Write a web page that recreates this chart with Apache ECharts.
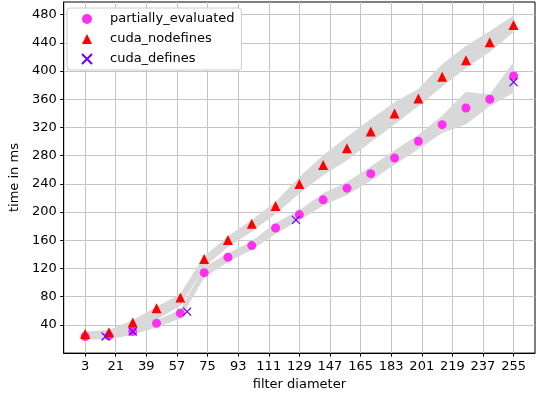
<!DOCTYPE html>
<html>
<head>
<meta charset="utf-8">
<script src="https://cdn.jsdelivr.net/npm/echarts@6/dist/echarts.min.js"></script>
<style>
html,body{margin:0;padding:0;background:#fff;}
#chart{width:544px;height:396px;}
</style>
</head>
<body>
<div id="chart"></div>
<script>
// ---- data ----
const xValues = [3,17,31,45,59,73,87,101,115,129,143,157,171,185,199,213,227,241,255];
const partiallyEvaluated = [23.5,24.5,30.6,42.3,56.5,114,136,152.5,177.4,196.5,217.4,234,254.5,276.7,300.5,324,347.7,360,393];
const cudaNodefines = [27,29.4,43.3,63.5,79,133.5,160.5,183.5,208.7,240,266.8,290.5,314.3,339.7,361,392,415.3,441,465.4];
const definesX = [15,31,63,127,255];
const cudaDefines = [23.5,30.6,58.8,189,384.4];
// spread bands (min / max)
const nodefinesLow  = [22,24,34,48,68,123,151,173,198,227,253,274,300,325,351,379,405,428,456];
const nodefinesHigh = [30,32,46,65,83,136.5,165,188,214,249,280,306,331,355,374,409,435,456,478];
const partialLow    = [20,20,27,37,50,108,130,147,170,189,210,225,245,268,290,313,325,351,370];
const partialHigh   = [27,28,34,46,61,121,141,158,184,202,226,242,264,287,309,336,370,366,412];
// ticks
const xTicks = [3,21,39,57,75,93,111,129,147,165,183,201,219,237,255];
const yTicks = [40,80,120,160,200,240,280,320,360,400,440,480];

const FONT = 'DejaVu Sans';

function bandSeries(low, high) {
  return {
    type: 'custom',
    z: 1,
    silent: true,
    data: xValues.map((x, i) => [x, low[i], high[i]]),
    encode: { x: 0, y: [1, 2] },
    renderItem: function (params, api) {
      if (params.dataIndex !== 0) return null;
      const pts = [];
      for (let i = 0; i < xValues.length; i++) pts.push(api.coord([xValues[i], high[i]]));
      for (let i = xValues.length - 1; i >= 0; i--) pts.push(api.coord([xValues[i], low[i]]));
      return { type: 'polygon', shape: { points: pts }, style: { fill: '#d8d8d8', stroke: '#d8d8d8', lineWidth: 1 } };
    }
  };
}

const chart = echarts.init(document.getElementById('chart'), null, { renderer: 'canvas' });
chart.setOption({
  animation: false,
  backgroundColor: '#ffffff',
  grid: { left: 60, right: 9, top: 2, bottom: 41, show: true, borderColor: '#000', borderWidth: 1, backgroundColor: 'transparent' },
  legend: {
    left: 67, top: 8, orient: 'vertical',
    itemWidth: 10, itemHeight: 10, itemGap: 6,
    padding: [4, 7, 4, 14],
    backgroundColor: '#ffffff', borderColor: '#cccccc', borderWidth: 1, borderRadius: 3,
    textStyle: { fontFamily: FONT, fontSize: 13, color: '#000', lineHeight: 14, padding: [0, 0, 0, 13] },
    data: ['partially_evaluated', 'cuda_nodefines', 'cuda_defines']
  },
  xAxis: {
    type: 'value', min: -9.6, max: 267.6,
    name: 'filter diameter', nameLocation: 'middle', nameGap: 24,
    nameTextStyle: { fontFamily: FONT, fontSize: 13, color: '#000' },
    axisLine: { show: true, onZero: false, lineStyle: { color: '#000', width: 1 } },
    axisTick: { show: true, length: 3.5, customValues: xTicks, lineStyle: { color: '#000', width: 1 } },
    axisLabel: { customValues: xTicks, fontFamily: FONT, fontSize: 13, color: '#000', margin: 7 },
    splitLine: { show: true, lineStyle: { color: '#c4c4c4', width: 1 } }
  },
  yAxis: {
    type: 'value', min: 0, max: 498,
    name: 'time in ms', nameLocation: 'middle', nameGap: 41,
    nameTextStyle: { fontFamily: FONT, fontSize: 13, color: '#000' },
    axisLine: { show: true, onZero: false, lineStyle: { color: '#000', width: 1 } },
    axisTick: { show: true, length: 3.5, customValues: yTicks, lineStyle: { color: '#000', width: 1 } },
    axisLabel: { customValues: yTicks, fontFamily: FONT, fontSize: 13, color: '#000', margin: 7 },
    splitLine: { show: true, lineStyle: { color: '#c4c4c4', width: 1 } }
  },
  series: [
    bandSeries(partialLow, partialHigh),
    bandSeries(nodefinesLow, nodefinesHigh),
    {
      name: 'partially_evaluated', type: 'scatter', z: 3,
      symbol: 'circle', symbolSize: 9,
      itemStyle: { color: '#ff30f0', opacity: 1 },
      data: xValues.map((x, i) => [x, partiallyEvaluated[i]])
    },
    {
      name: 'cuda_nodefines', type: 'scatter', z: 4,
      symbol: 'triangle', symbolSize: 10,
      itemStyle: { color: '#ff0000', opacity: 1 },
      data: xValues.map((x, i) => [x, cudaNodefines[i]])
    },
    {
      name: 'cuda_defines', type: 'scatter', z: 5,
      symbol: 'path://M0,0L10,10M10,0L0,10', symbolSize: 8,
      itemStyle: { color: '#6f00ff', borderColor: '#6f00ff', borderWidth: 1.3, opacity: 1 },
      data: definesX.map((x, i) => [x, cudaDefines[i]])
    }
  ]
});
</script>
</body>
</html>
